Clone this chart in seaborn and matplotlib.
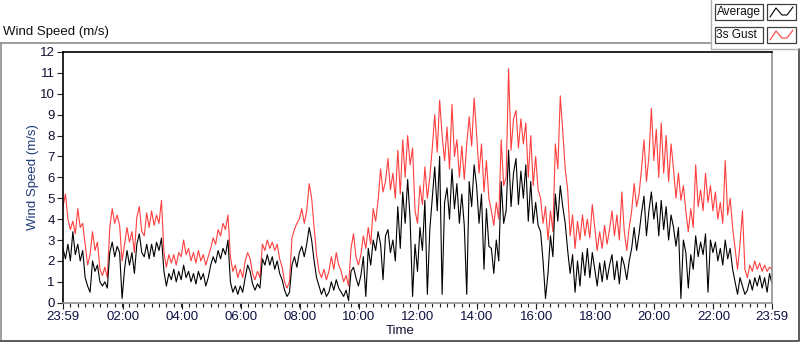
import numpy as np
import pandas as pd
import matplotlib
matplotlib.use("Agg")
import matplotlib.pyplot as plt
import seaborn as sns
from matplotlib.patches import Rectangle
from matplotlib.lines import Line2D

# ---- data: 5-minute samples, minutes since 23:59 (0 .. 1440) ----
gust = [
    4.6, 5.2, 4.0, 3.5, 3.9, 3.3, 4.5, 3.6, 3.8, 2.8, 1.8, 2.3,
    3.4, 2.5, 2.9, 1.6, 1.3, 1.7, 1.2, 3.6, 4.5, 3.8, 4.2, 3.7,
    2.0, 2.8, 3.6, 2.9, 3.4, 2.4, 4.1, 4.6, 3.4, 3.2, 4.3, 3.6,
    4.4, 3.7, 4.2, 3.8, 4.9, 2.4, 1.7, 2.3, 1.9, 2.3, 1.8, 2.4,
    2.2, 3.0, 2.3, 2.6, 2.0, 2.4, 1.9, 2.5, 2.0, 2.3, 1.8, 2.2,
    2.6, 3.1, 2.8, 3.5, 3.2, 3.8, 3.5, 4.2, 2.2, 1.5, 1.8, 1.2,
    1.6, 1.2, 2.0, 2.4, 2.1, 1.4, 1.1, 1.5, 1.2, 2.8, 2.5, 3.0,
    2.6, 2.9, 2.5, 2.8, 2.1, 1.7, 1.0, 0.7, 1.0, 3.1, 3.5, 3.8,
    4.0, 4.5, 3.8, 4.4, 5.7, 5.0, 3.6, 2.3, 1.5, 1.2, 1.6, 1.1,
    1.5, 2.2, 1.6, 2.4, 1.8, 1.5, 1.0, 1.3, 0.8, 2.6, 3.3, 2.2,
    1.8, 2.3, 3.2, 2.6, 3.6, 2.8, 4.5, 3.9, 4.9, 6.4, 5.3, 5.8,
    6.9, 5.4, 6.2, 5.0, 7.3, 5.2, 7.8, 6.0, 8.0, 6.6, 7.4, 4.4,
    3.8, 5.6, 4.7, 6.5, 5.0, 6.0, 7.4, 9.0, 7.2, 9.7, 8.0, 6.8,
    8.4, 6.4, 9.5, 7.0, 7.8, 6.0, 7.5, 5.9, 7.6, 8.9, 7.5, 9.8,
    8.1, 6.2, 7.6, 5.3, 6.8, 5.0, 4.4, 3.7, 4.8, 4.0, 7.8, 5.6,
    6.0, 11.2, 7.3, 8.8, 9.2, 7.4, 8.8, 7.6, 8.6, 6.0, 8.0, 5.6,
    7.0, 5.4, 5.0, 3.8, 4.6, 3.0, 4.4, 3.4, 7.6, 6.4, 9.9, 8.2,
    6.4, 5.4, 3.2, 4.2, 2.6, 3.9, 3.0, 4.2, 3.2, 4.0, 3.1, 4.7,
    3.6, 2.5, 3.4, 2.6, 3.7, 2.8, 3.5, 4.4, 3.2, 4.2, 3.0, 5.3,
    3.4, 2.5, 3.6, 4.4, 5.7, 4.6, 5.2, 6.4, 7.8, 5.8, 7.0, 9.3,
    6.8, 8.3, 6.0, 8.6, 6.2, 8.0, 5.8, 7.6, 6.4, 5.0, 6.2, 4.9,
    5.6, 4.4, 3.4, 4.5, 3.6, 6.6, 4.6, 5.4, 4.4, 6.2, 4.8, 5.6,
    4.4, 5.3, 4.0, 4.8, 3.8, 6.8, 4.2, 5.0, 3.6, 2.6, 1.6, 2.8,
    4.4, 1.6, 1.2, 1.8, 1.5, 2.0, 1.6, 1.9, 1.5, 1.8, 1.5, 1.7, 1.6,
]
average = [
    2.6, 2.1, 2.8, 2.0, 3.4, 2.3, 2.8, 2.0, 2.5, 1.2, 0.8, 0.5,
    2.0, 1.5, 1.8, 1.0, 0.8, 1.0, 0.7, 2.4, 2.9, 2.2, 2.7, 2.4,
    0.2, 1.6, 2.5, 1.8, 2.4, 1.4, 2.8, 3.3, 2.4, 2.2, 2.8, 2.1,
    2.8, 2.2, 2.9, 2.5, 3.1, 1.5, 0.8, 1.4, 1.1, 1.6, 1.0, 1.5,
    1.1, 1.8, 1.2, 1.5, 1.0, 1.4, 0.9, 1.5, 1.1, 1.4, 0.8, 1.2,
    1.8, 2.2, 1.9, 2.5, 2.1, 2.6, 2.3, 3.0, 1.0, 0.5, 0.8, 0.4,
    0.8, 0.5, 1.2, 1.8, 1.5, 0.9, 0.6, 0.9, 0.7, 2.1, 1.8, 2.3,
    1.8, 2.2, 1.6, 2.0, 1.4, 1.1, 0.6, 0.3, 0.5, 1.8, 2.2, 1.7,
    2.4, 2.7, 2.2, 2.8, 3.6, 3.0, 2.0, 1.2, 0.8, 0.4, 0.7, 0.3,
    0.5, 1.0, 0.6, 1.1, 0.7, 0.5, 0.3, 0.6, 0.1, 1.5, 1.7, 1.2,
    0.8, 1.3, 2.2, 0.3, 2.6, 1.8, 3.0, 2.5, 3.4, 2.8, 1.1, 3.2,
    3.5, 2.4, 3.0, 2.0, 4.6, 2.6, 5.3, 3.8, 5.9, 4.0, 0.3, 2.8,
    1.5, 3.6, 2.5, 4.9, 0.4, 3.5, 5.0, 6.5, 4.4, 7.0, 0.4, 4.8,
    5.5, 4.0, 6.4, 4.5, 5.7, 3.8, 5.2, 3.7, 0.4, 5.8, 4.6, 6.6,
    5.6, 3.8, 5.2, 1.6, 4.5, 2.7, 2.6, 1.4, 3.0, 2.0, 5.8, 3.8,
    4.4, 7.3, 4.6, 6.2, 6.9, 4.7, 6.3, 5.0, 6.6, 3.9, 5.8, 3.8,
    4.8, 3.7, 3.4, 2.0, 0.2, 1.4, 3.2, 2.2, 5.2, 3.9, 5.6, 4.6,
    3.8, 2.5, 1.4, 2.3, 0.5, 2.0, 0.8, 2.4, 1.3, 2.6, 1.2, 2.4,
    1.6, 0.8, 1.9, 1.0, 2.0, 1.1, 1.8, 2.3, 1.1, 2.0, 0.9, 2.2,
    1.8, 1.1, 2.0, 2.6, 3.6, 2.5, 3.3, 4.3, 5.1, 3.2, 4.4, 5.3,
    4.0, 4.8, 3.2, 4.9, 3.5, 4.6, 3.0, 4.2, 3.6, 2.7, 3.6, 0.2,
    3.0, 2.4, 0.7, 2.3, 1.6, 3.2, 2.2, 2.9, 2.3, 3.3, 0.5, 3.0,
    2.4, 2.9, 2.0, 2.6, 1.8, 3.0, 2.1, 2.6, 1.6, 1.0, 0.4, 1.2,
    0.8, 0.4, 0.6, 1.1, 0.6, 1.2, 0.8, 1.3, 0.7, 1.2, 0.5, 1.4, 0.9,
]
minutes = np.arange(len(gust)) * 5
tick_minutes = [0, 121, 241, 361, 481, 601, 721, 841, 961, 1081, 1201, 1321, 1440]
tick_labels = ["23:59", "02:00", "04:00", "06:00", "08:00", "10:00", "12:00",
               "14:00", "16:00", "18:00", "20:00", "22:00", "23:59"]

df = pd.DataFrame({"t": minutes, "gust": gust, "avg": average})

sns.set_style("white")
plt.rcParams["font.family"] = ["Liberation Sans", "DejaVu Sans"]

W, H = 800, 342
fig = plt.figure(figsize=(W / 100, H / 100), dpi=100)
fig.patch.set_facecolor("white")

def fx(px):
    return px / W

def fy(py):
    return 1 - py / H

# outer LabVIEW-like frame
frame_col = "#8c8c8c"
fig.add_artist(Line2D([fx(0), fx(711)], [fy(42.5), fy(42.5)], color=frame_col, lw=1.2))
fig.add_artist(Line2D([fx(0.8), fx(0.8)], [fy(42.5), fy(340)], color=frame_col, lw=1.2))
fig.add_artist(Line2D([fx(0), fx(798)], [fy(340.5), fy(340.5)], color="#404040", lw=1.2))
fig.add_artist(Line2D([fx(798.5), fx(798.5)], [fy(49), fy(341)], color="#404040", lw=1.2))

# legend panel
fig.add_artist(Line2D([fx(711), fx(711)], [fy(0), fy(49)], color="#b0b0b0", lw=1))
fig.add_artist(Line2D([fx(711), fx(798)], [fy(49), fy(49)], color="#b0b0b0", lw=1))
for (y0, label, col) in [(4, "Average", "black"), (27, "3s Gust", "#ff3f3f")]:
    fig.add_artist(Rectangle((fx(715), fy(y0 + 16)), fx(48), 16 / H, transform=fig.transFigure,
                             facecolor="white", edgecolor="#404040", lw=0.9))
    fig.add_artist(Rectangle((fx(767), fy(y0 + 16)), fx(29), 16 / H, transform=fig.transFigure,
                             facecolor="white", edgecolor="#404040", lw=0.9))
    fig.text(fx(716.5), fy(y0 + 8.5), label, fontsize=8.6, va="center", ha="left", color="#101010")
    gx = [770, 776, 782, 787, 793]
    gy = [y0 + 13, y0 + 4, y0 + 11, y0 + 11, y0 + 3]
    fig.add_artist(Line2D([fx(v) for v in gx], [fy(v) for v in gy], color=col, lw=0.8))

fig.text(fx(3), fy(32), "Wind Speed (m/s)", fontsize=9.5, va="center", ha="left", color="#101010")

ax = fig.add_axes([fx(63), fy(302.7), fx(772 - 63), (302.7 - 52) / H])
sns.lineplot(data=df, x="t", y="gust", ax=ax, color="#ff3f3f", lw=0.8, estimator=None)
sns.lineplot(data=df, x="t", y="avg", ax=ax, color="black", lw=0.8, estimator=None)

ax.set_xlim(0, 1440)
ax.set_ylim(0, 12)
ax.set_yticks(range(0, 13))
ax.set_yticklabels([str(v) for v in range(0, 13)], fontsize=9.5, color="#101030")
ax.set_xticks(tick_minutes)
ax.set_xticklabels(tick_labels, fontsize=9.5, color="#101040")
ax.set_xticks(np.arange(15, 1440, 15), minor=True)
ax.tick_params(axis="both", which="major", direction="out", length=4, width=0.8,
               color="#202020", pad=2, bottom=True, left=True)
ax.tick_params(axis="x", which="minor", direction="out", length=3, width=0.8,
               color="#202020", bottom=True)
ax.set_xlabel("Time", fontsize=9.5, color="#101030")
ax.set_ylabel("Wind Speed (m/s)", fontsize=9.5, color="#1f3c78")
ax.xaxis.set_label_coords((400 - 63) / 709, -(325 - 302.7) / 250.7)
ax.yaxis.set_label_coords(-(63 - 39) / 709, 0.5)

for side in ["left", "top"]:
    ax.spines[side].set_color("black")
    ax.spines[side].set_linewidth(1.2)
for side in ["right", "bottom"]:
    ax.spines[side].set_color("#909090")
    ax.spines[side].set_linewidth(1.2)

fig.savefig("out.png", dpi=100)
